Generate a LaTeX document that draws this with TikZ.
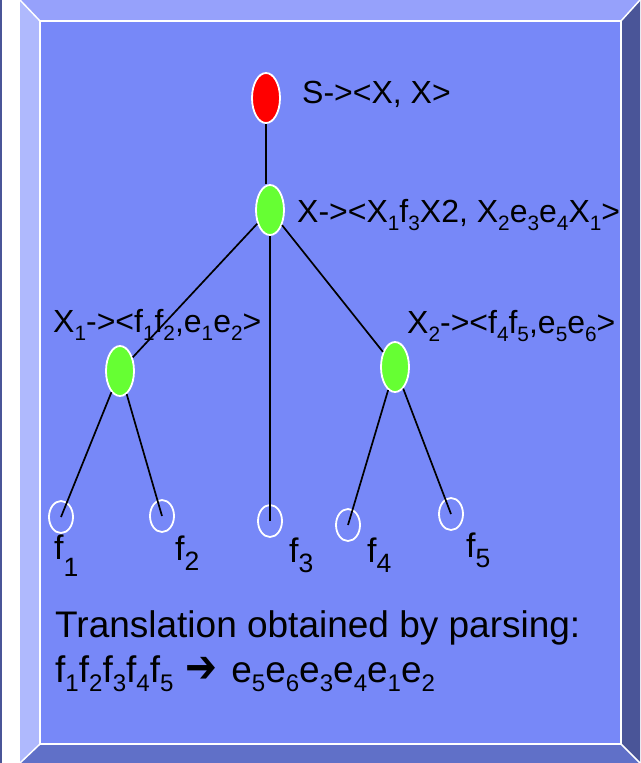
\documentclass[tikz,border=0pt]{standalone}
\usepackage{fontspec}
\setmainfont{Liberation Sans}
\newfontfamily\arrowfont{DejaVu Sans}
\usetikzlibrary{shapes.geometric, positioning}

\definecolor{panel}{HTML}{7788F8}
\definecolor{beveltop}{HTML}{96A1FB}
\definecolor{bevelleft}{HTML}{AFB9FD}
\definecolor{bevelright}{HTML}{4A5598}
\definecolor{bevelbottom}{HTML}{6070C8}
\definecolor{leafgreen}{HTML}{66FF33}

\newcommand*\sbxscale{0.65}
\newcommand*\sbx[2][0.25em]{\raisebox{-#1}{\scalebox{\sbxscale}{#2}}}

\begin{document}
\begin{tikzpicture}[
	x=1pt, y=-1pt,
	rulenode/.style={draw=white, ellipse, line width=1.8pt, minimum width=28pt, minimum height=50pt, inner sep=0pt},
	leaf/.style={draw=white, ellipse, line width=1.8pt, minimum width=24pt, minimum height=32pt, inner sep=0pt},
	rule/.style={anchor=base west, inner sep=0pt, font=\fontsize{32}{38}\selectfont},
	word/.style={anchor=base west, inner sep=0pt, font=\fontsize{34}{40}\selectfont\def\sbxscale{0.78}},
	caption/.style={anchor=base west, inner sep=0pt, font=\fontsize{37}{44}\selectfont},
	edge/.style={line width=1.7pt}
]
	\useasboundingbox (0,0) rectangle (640,763);
	\fill[white] (0,0) rectangle (640,763);
	\fill[bevelright] (0,0) rectangle (1.5,763);
	\fill[bevelleft] (20,0) -- (40,21) -- (40,744) -- (20,763) -- cycle;
	\fill[beveltop] (20,0) -- (640,0) -- (621,21) -- (40,21) -- cycle;
	\fill[bevelright] (640,0) -- (621,21) -- (621,744) -- (640,763) -- cycle;
	\fill[bevelbottom] (20,763) -- (40,744) -- (621,744) -- (640,763) -- cycle;
	\draw[white, line width=1.5pt, fill=panel] (40,21) rectangle (621,744);
	\draw[white, line width=1.5pt] (20,0) -- (40,21) (640,0) -- (621,21) (621,744) -- (640,763) (40,744) -- (20,763);

	\node (S) [rulenode, fill=red] at (266,98) {};
	\node (X) [rulenode, fill=leafgreen] at (270,210) {};
	\node (X1) [rulenode, fill=leafgreen] at (120,371) {};
	\node (X2) [rulenode, fill=leafgreen] at (395,367) {};
	\node (f1) [leaf] at (61,517) {};
	\node (f2) [leaf] at (162,516) {};
	\node (f3) [leaf] at (270,521) {};
	\node (f4) [leaf] at (348,525) {};
	\node (f5) [leaf] at (451,514) {};

	\draw [edge] (S) -- (S |- X.north);
	\draw [edge] (X) -- (X1);
	\draw [edge] (X) -- (f3.center);
	\draw [edge] (X) -- (X2);
	\draw [edge] (X1) -- (f1.center);
	\draw [edge] (X1) -- (f2.center);
	\draw [edge] (X2) -- (f4.center);
	\draw [edge] (X2) -- (f5.center);

	\node (Srule) [rule] at (302,103) {S-{}>{}<X, X>};
	\node (Xrule) [rule] at (297,222) {X-{}>{}<X\sbx{1}f\sbx{3}X2, X\sbx{2}e\sbx{3}e\sbx{4}X\sbx{1}>};
	\node (X1rule) [rule] at (53,332) {X\sbx{1}-{}>{}<f\sbx{1}f\sbx{2},e\sbx{1}e\sbx{2}>};
	\node (X2rule) [rule] at (407,333) {X\sbx{2}-{}>{}<f\sbx{4}f\sbx{5},e\sbx{5}e\sbx{6}>};

	\node (f1word) [word] at (54,559) {f\sbx[0.5em]{1}};
	\node (f2word) [word] at (175,560) {f\sbx[0.3em]{2}};
	\node (f3word) [word] at (289,562) {f\sbx[0.3em]{3}};
	\node (f4word) [word] at (367,562) {f\sbx[0.3em]{4}};
	\node (f5word) [word] at (466,557) {f\sbx[0.3em]{5}};

	\node (parsing) [caption] at (55,637) {Translation obtained by parsing:};
	\node (mapping) [caption] at (55,682) {f\sbx{1}f\sbx{2}f\sbx{3}f\sbx{4}f\sbx{5}\hspace{12pt}{\arrowfont\bfseries\fontsize{38}{40}\selectfont\scalebox{1}[1.2]{➔}}\hspace{14pt}e\sbx{5}e\sbx{6}e\sbx{3}e\sbx{4}e\sbx{1}e\sbx{2}};
\end{tikzpicture}
\end{document}
